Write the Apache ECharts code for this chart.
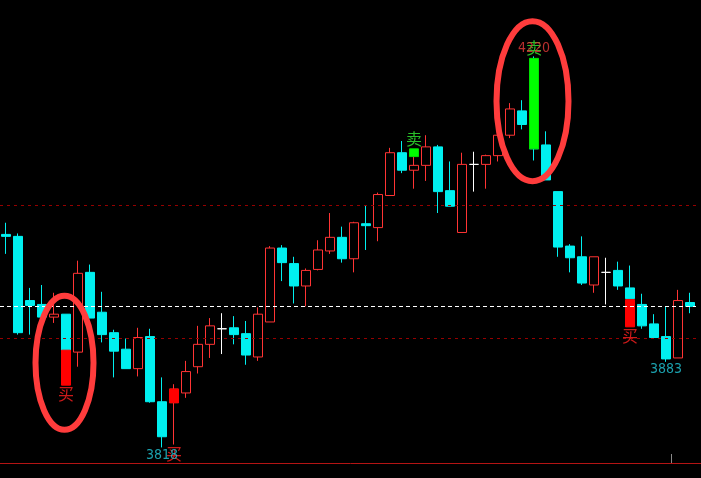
<!DOCTYPE html>
<html><head><meta charset="utf-8">
<script src="https://cdn.jsdelivr.net/npm/echarts@6/dist/echarts.min.js"></script>
<style>html,body{margin:0;padding:0;background:#000;}#c{width:701px;height:478px;}</style>
</head><body><div id="c"></div>
<script>
// OHLC values
const opens  = [4037,4035,3969,3965,3952,3955,3916,3998,3957,3936,3919,3899,3932,3865,3864,3874,3901,3924,3940,3941,3935,3911,3947,4023,4007,3984,4001,4020,4034,4012,4048,4044,4077,4121,4103,4108,4127,4082,4039,4109,4109,4118,4139,4164,4217,4129,4081,4025,4014,3985,3998,4000,3982,3965,3945,3932,3910,3967];
const closes = [4035,3936,3964,3952,3955,3916,3997,3951,3934,3917,3899,3931,3865,3829,3878,3896,3924,3943,3940,3934,3913,3955,4023,4008,3984,4000,4021,4034,4012,4049,4046,4078,4121,4103,4108,4127,4081,4066,4109,4109,4118,4139,4166,4150,4125,4093,4024,4013,3987,4014,3998,3984,3971,3943,3931,3909,3969,3963];
const lows   = [4017,3934,3934,3951,3946,3916,3901,3951,3926,3890,3899,3891,3864,3818,3821,3869,3894,3910,3914,3924,3903,3907,3947,3989,3966,3963,4000,4017,4008,3998,4021,4030,4077,4100,4084,4092,4059,4066,4039,4081,4084,4112,4136,4145,4113,4093,4014,3998,3985,3977,3965,3980,3971,3940,3931,3906,3910,3956];
const highs  = [4049,4038,3982,3985,3977,3955,4010,4006,3978,3939,3930,3941,3940,3890,3883,3907,3943,3951,3956,3953,3948,3962,4025,4026,4014,4002,4031,4059,4045,4050,4067,4080,4126,4133,4124,4139,4129,4112,4121,4122,4119,4140,4172,4175,4220,4143,4081,4027,4035,4014,4013,4009,4005,3976,3955,3963,3980,3977];
const categories = opens.map((_, i) => String(i + 1));

// horizontal reference levels
const redLevels = [4067, 3930];
const whiteLevels = [3963];

// buy / sell signal sticks
const buyIdx = [5, 14, 52];
const buyTop = [3918, 3878, 3970];
const buyBottom = [3882, 3864, 3942];
const buyTextAt = [3882, 3821, 3942];
const buyText = ['买', '买', '买'];
const sellIdx = [34, 44];
const sellTop = [4125, 4218];
const sellBottom = [4117, 4125];
const sellText = ['卖', '卖'];

// extreme value labels
const extIdx = [13, 44, 55];
const extAt = [3818, 4220, 3906];
const extText = ['3818', '4220', '3883'];

// highlighted zones (ellipses)
const ringIdx = [5, 44];
const ringPrice = [3905, 4174];

// period separator tick (before this category)
const sepIdx = [56];

const CYAN = '#00f0f0', RED = '#ff3434';
const Y_MIN = 3802, Y_MAX = 4278;

const chart = echarts.init(document.getElementById('c'), null, {renderer: 'canvas'});
const ohlc = opens.map((o, i) => [o, closes[i], lows[i], highs[i]]);

const option = {
  backgroundColor: '#000000',
  animation: false,
  grid: {left: 0, right: 5, top: 0, bottom: 15},
  xAxis: {
    type: 'category', data: categories, boundaryGap: true,
    axisLine: {show: false}, axisTick: {show: false},
    axisLabel: {show: false}, splitLine: {show: false}
  },
  yAxis: {
    type: 'value', min: Y_MIN, max: Y_MAX, show: false, splitLine: {show: false}
  },
  series: [
    {
      type: 'candlestick', data: ohlc, barWidth: 10, z: 2,
      itemStyle: {
        color: '#000000', borderColor: RED,
        color0: CYAN, borderColor0: CYAN,
        borderColorDoji: '#ffffff', borderWidth: 1
      },
      markLine: {
        silent: true, symbol: 'none', label: {show: false},
        data: redLevels.map(v => ({yAxis: v, lineStyle: {color: '#960000', type: [3, 4], width: 1}}))
          .concat(whiteLevels.map(v => ({yAxis: v, lineStyle: {color: '#ffffff', type: [4, 3], width: 1}})))
      }
    },
    {
      type: 'candlestick', barWidth: 10, z: 3,
      encode: {x: 0, y: [1, 2, 3, 4]},
      data: buyIdx.map((ix, k) => [ix, buyBottom[k], buyTop[k], buyBottom[k], buyTop[k]]),
      itemStyle: {color: '#ff0000', borderColor: '#ff0000', color0: '#ff0000', borderColor0: '#ff0000'}
    },
    {
      type: 'candlestick', barWidth: 10, z: 3,
      encode: {x: 0, y: [1, 2, 3, 4]},
      data: sellIdx.map((ix, k) => [ix, sellBottom[k], sellTop[k], sellBottom[k], sellTop[k]]),
      itemStyle: {color: '#00ff00', borderColor: '#00e000', color0: '#00ff00', borderColor0: '#00e000'}
    },
    {
      type: 'scatter', symbolSize: 0, z: 5, silent: true,
      data: buyIdx.map((ix, k) => ({value: [ix, buyTextAt[k]], label: {formatter: buyText[k]}})),
      label: {show: true, position: 'bottom', distance: 1, color: '#ff2020', fontSize: 16,
        fontFamily: 'Noto Sans CJK SC'}
    },
    {
      type: 'scatter', symbolSize: 0, z: 5, silent: true,
      data: sellIdx.map((ix, k) => ({value: [ix, sellTop[k]], label: {formatter: sellText[k]}})),
      label: {show: true, position: 'top', distance: 2, color: '#33ee33', fontSize: 16,
        fontFamily: 'Noto Sans CJK SC'}
    },
    {
      type: 'scatter', symbolSize: 0, z: 6, silent: true,
      data: extIdx.map((ix, k) => ({
        value: [ix, extAt[k]],
        label: {formatter: extText[k], position: extText[k] === '4220' ? 'top' : 'bottom',
          color: extText[k] === '4220' ? '#e63a3a' : '#22c8d8'}
      })),
      label: {show: true, distance: 1, fontSize: 14,
        fontFamily: '"Liberation Sans Narrow", "DejaVu Sans Condensed", "Liberation Sans", sans-serif'}
    }
  ]
};
chart.setOption(option);

const radii = [[29, 67], [36, 80]];
const bottomY = chart.convertToPixel({gridIndex: 0}, [0, Y_MIN])[1];
const graphics = ringIdx.map((ix, k) => {
  const p = chart.convertToPixel({gridIndex: 0}, [ix, ringPrice[k]]);
  return {
    type: 'ellipse', z: 100, silent: true,
    shape: {cx: p[0] - 1.5, cy: p[1], rx: radii[k][0], ry: radii[k][1]},
    style: {fill: 'none', stroke: '#ff3c3c', lineWidth: 6}
  };
});
graphics.push({
  type: 'line', z: 50, silent: true,
  shape: {x1: 0, y1: Math.round(bottomY) + 0.5, x2: 701, y2: Math.round(bottomY) + 0.5},
  style: {stroke: '#b41414', lineWidth: 1}
});
sepIdx.forEach(ix => {
  const a = chart.convertToPixel({gridIndex: 0}, [ix - 1, Y_MIN])[0];
  const b = chart.convertToPixel({gridIndex: 0}, [ix, Y_MIN])[0];
  const x = Math.round((a + b) / 2) - 0.5;
  graphics.push({
    type: 'line', z: 51, silent: true,
    shape: {x1: x, y1: Math.round(bottomY) - 9, x2: x, y2: Math.round(bottomY)},
    style: {stroke: '#8a8a8a', lineWidth: 1}
  });
});
chart.setOption({graphic: graphics});
</script>
</body></html>
